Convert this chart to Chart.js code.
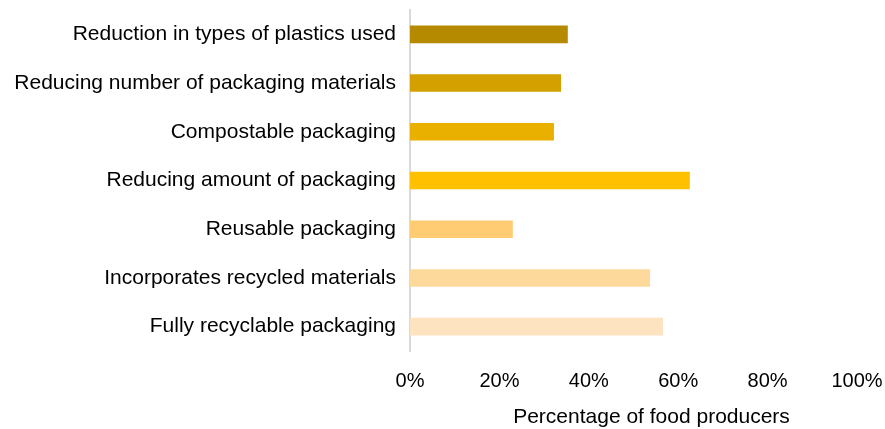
<!DOCTYPE html>
<html>
<head>
<meta charset="utf-8">
<script src="https://cdn.jsdelivr.net/npm/chart.js@4/dist/chart.umd.min.js"></script>
<style>
  html, body { margin: 0; padding: 0; background: #fff; }
  #wrap { width: 885px; height: 429px; position: relative; }
</style>
</head>
<body>
<div id="wrap"><canvas id="c"></canvas></div>
<script>
// Packaging approaches reported by food producers
const categories = [
  'Reduction in types of plastics used',
  'Reducing number of packaging materials',
  'Compostable packaging',
  'Reducing amount of packaging',
  'Reusable packaging',
  'Incorporates recycled materials',
  'Fully recyclable packaging'
];
const shares = [35.3, 33.8, 32.2, 62.6, 23.0, 53.7, 56.6];
const barColors = ['#B68A00', '#D4A000', '#E9B000', '#FFC000', '#FFCC73', '#FED99C', '#FEE3C0'];
const xTicks = [0, 20, 40, 60, 80, 100];
const xTitle = 'Percentage of food producers';

const family = '"Liberation Sans", Arial, sans-serif';
const labelFont = { family, size: 21 };
const tickFont = { family, size: 20 };

// Axis title, placed a little right of the plot centre
const axisTitle = {
  id: 'axisTitle',
  afterDraw(chart) {
    const { ctx, chartArea } = chart;
    ctx.save();
    ctx.font = `21px ${family}`;
    ctx.fillStyle = '#000';
    ctx.textAlign = 'center';
    ctx.textBaseline = 'middle';
    ctx.fillText(xTitle, (chartArea.left + chartArea.right) / 2 + 18, 417);
    ctx.restore();
  }
};

new Chart(document.getElementById('c'), {
  type: 'bar',
  data: {
    labels: categories,
    datasets: [{
      data: shares,
      backgroundColor: barColors,
      borderWidth: 0,
      barPercentage: 0.36,
      categoryPercentage: 1
    }]
  },
  options: {
    indexAxis: 'y',
    responsive: true,
    maintainAspectRatio: false,
    animation: false,
    layout: { padding: { top: 10, right: 28, bottom: 0, left: 0 } },
    plugins: { legend: { display: false }, tooltip: { enabled: false } },
    scales: {
      x: {
        min: xTicks[0],
        max: xTicks[xTicks.length - 1],
        afterBuildTicks: (scale) => { scale.ticks = xTicks.map(v => ({ value: v })); },
        grid: { display: false, drawTicks: false },
        border: { display: false },
        ticks: { font: tickFont, color: '#000', padding: 18, maxRotation: 0, callback: v => v + '%' },
        afterFit: (scale) => { scale.height = 78; scale.paddingLeft = 0; scale.paddingRight = 0; }
      },
      y: {
        grid: { display: false, drawTicks: false },
        border: { display: true, color: '#D9D9D9', width: 2 },
        ticks: { font: labelFont, color: '#000', padding: 14 },
        afterFit: (scale) => { scale.width = 410; scale.paddingTop = 0; scale.paddingBottom = 0; }
      }
    }
  },
  plugins: [axisTitle]
});
</script>
</body>
</html>
